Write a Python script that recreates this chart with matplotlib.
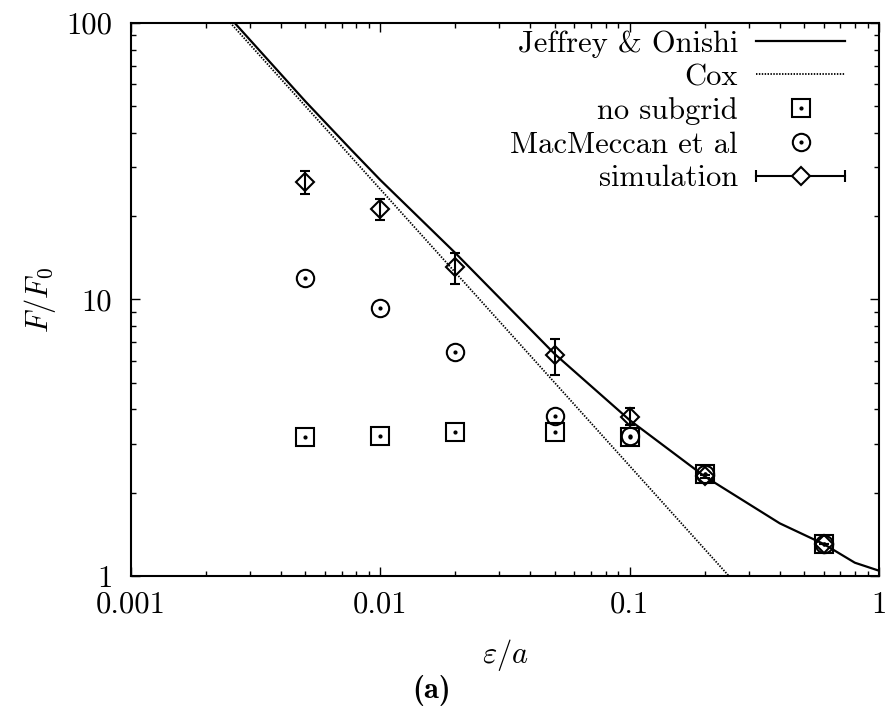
import numpy as np
import matplotlib
matplotlib.use("Agg")
import matplotlib.pyplot as plt
from matplotlib.lines import Line2D
from matplotlib.legend_handler import HandlerBase
from matplotlib.container import ErrorbarContainer
from matplotlib.ticker import FixedLocator, FixedFormatter, NullFormatter

plt.rcParams["font.family"] = ["cmr10", "DejaVu Serif"]
plt.rcParams["mathtext.fontset"] = "cm"
plt.rcParams["axes.formatter.use_mathtext"] = True
plt.rcParams["font.size"] = 22

# theory curves (gap / radius vs force ratio)
jo_eps = [0.0026, 0.005, 0.0076, 0.01, 0.02, 0.05, 0.1, 0.2, 0.4, 0.6, 0.8, 1.0]
jo_F = [100, 52.0, 34.9, 27.0, 14.7, 6.35, 3.66, 2.29, 1.55, 1.305, 1.117, 1.045]
cox_eps = [0.0025, 0.25]
cox_F = [100, 1]

# measured / simulated points
eps = [0.005, 0.01, 0.02, 0.05, 0.1, 0.2, 0.6]
F_nosub = [3.19, 3.20, 3.32, 3.31, 3.19, 2.33, 1.31]
F_macm = [11.9, 9.33, 6.47, 3.79, 3.20, 2.33, 1.31]
F_sim = [26.5, 21.2, 13.1, 6.29, 3.77, 2.29, 1.305]
F_sim_lo = [24.0, 19.4, 11.4, 5.33, 3.51, 2.27, 1.30]
F_sim_hi = [29.2, 23.0, 14.7, 7.17, 4.04, 2.31, 1.31]

xticks = [0.001, 0.01, 0.1, 1]
xtick_labels = ["0.001", "0.01", "0.1", "1"]
yticks = [1, 10, 100]
ytick_labels = ["1", "10", "100"]


class HandlerXErr(HandlerBase):
    """gnuplot-style key entry: horizontal bar with end caps and a diamond."""

    def create_artists(self, legend, orig_handle, xdescent, ydescent,
                       width, height, fontsize, trans):
        y = height / 2 - ydescent
        x0, x1 = -xdescent, width - xdescent
        bar = Line2D([x0, x1], [y, y], color="k", lw=1.5)
        caps = Line2D([x0, x1], [y, y], ls="none", marker="|", ms=9,
                      mew=1.5, color="k")
        mark = Line2D([(x0 + x1) / 2], [y], ls="none", marker="D", ms=9,
                      mfc="white", mec="k", mew=1.5)
        for a in (bar, caps, mark):
            a.set_transform(trans)
        return [bar, caps, mark]


fig = plt.figure(figsize=(8.88, 7.11), dpi=100)
ax = fig.add_axes([131 / 888, 1 - 576 / 711, 748 / 888, 553.3 / 711])
ax.set_xscale("log")
ax.set_yscale("log")

jo, = ax.plot(jo_eps, jo_F, color="k", lw=1.6)
cox, = ax.plot(cox_eps, cox_F, color="k", lw=1.3, ls=(0, (0.8, 0.8)))

sq, = ax.plot(eps, F_nosub, ls="none", marker="s", ms=12.5, mfc="none",
              mec="k", mew=1.5)
sq_dot, = ax.plot(eps, F_nosub, ls="none", marker="o", ms=2, color="k")
ci, = ax.plot(eps, F_macm, ls="none", marker="o", ms=12.5, mfc="none",
              mec="k", mew=1.5)
ci_dot, = ax.plot(eps, F_macm, ls="none", marker="o", ms=2, color="k")

F_sim_a = np.array(F_sim)
yerr = [F_sim_a - np.array(F_sim_lo), np.array(F_sim_hi) - F_sim_a]
sim = ax.errorbar(eps, F_sim, yerr=yerr, fmt="D", ms=9, mfc="none", mec="k",
                  mew=1.5, ecolor="k", elinewidth=1.5, capsize=3.5,
                  capthick=1.5)

ax.set_xlim(0.001, 1)
ax.set_ylim(1, 100)
ax.xaxis.set_major_locator(FixedLocator(xticks))
ax.xaxis.set_major_formatter(FixedFormatter(xtick_labels))
ax.yaxis.set_major_locator(FixedLocator(yticks))
ax.yaxis.set_major_formatter(FixedFormatter(ytick_labels))
ax.xaxis.set_minor_formatter(NullFormatter())
ax.yaxis.set_minor_formatter(NullFormatter())
ax.tick_params(which="both", direction="in", top=True, right=True, width=1.0)
ax.tick_params(which="major", length=6.5)
ax.tick_params(axis="x", which="major", pad=11)
ax.tick_params(axis="y", which="major", pad=13.5)
ax.tick_params(which="minor", length=3.6)
for s in ax.spines.values():
    s.set_linewidth(1.5)

leg = ax.legend(
    [jo, cox, (sq, sq_dot), (ci, ci_dot), sim],
    ["Jeffrey & Onishi", "Cox", "no subgrid", "MacMeccan et al", "simulation"],
    handler_map={ErrorbarContainer: HandlerXErr()},
    loc="upper right", bbox_to_anchor=(845 / 888, 1 - 30 / 711),
    bbox_transform=fig.transFigure, frameon=False, markerfirst=False,
    handlelength=2.9, handletextpad=0.6, labelspacing=0.2,
    borderaxespad=0, borderpad=0,
)

fig.text(505 / 888, 1 - 655 / 711, r"$\varepsilon/a$", ha="center", va="center")
fig.text(40 / 888, 1 - 300 / 711, r"$F/F_0$", ha="center", va="center",
         rotation=90)
fig.text(432 / 888, 1 - 691 / 711, "(a)", ha="center", va="center",
         family=["cmb10", "DejaVu Serif"])

fig.savefig("out.png", dpi=100)
plt.close(fig)
